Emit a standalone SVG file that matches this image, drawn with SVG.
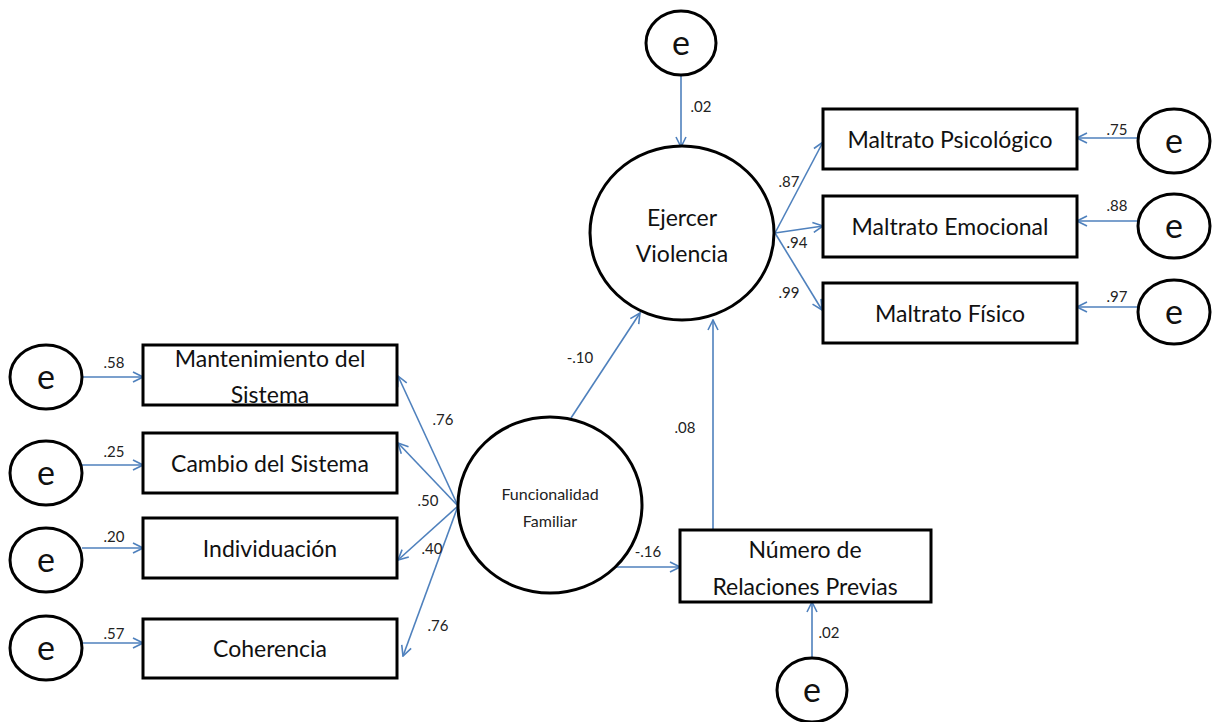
<svg xmlns="http://www.w3.org/2000/svg" width="1212" height="722" viewBox="0 0 1212 722">
<style>
.n{fill:#fff;stroke:#000;stroke-width:3}
.t{font-family:Lato,"Liberation Sans",sans-serif;font-size:23px;fill:#111;text-anchor:middle}
.e{font-family:Lato,"Liberation Sans",sans-serif;font-size:34px;fill:#111;text-anchor:middle}
.l{font-family:Lato,"Liberation Sans",sans-serif;font-size:15px;fill:#222;text-anchor:middle}
.s{font-family:Lato,"Liberation Sans",sans-serif;font-size:16px;fill:#222;text-anchor:middle}
.c{fill:none;stroke:#4f81bd;stroke-width:1.6;marker-end:url(#a)}
</style>
<defs>
<marker id="a" viewBox="0 0 12 12" refX="11" refY="6" markerWidth="12" markerHeight="12" markerUnits="userSpaceOnUse" orient="auto">
<path d="M1,1 L11,6 L1,11" fill="none" stroke="#4f81bd" stroke-width="1.6"/>
</marker>
</defs>
<rect width="1212" height="722" fill="#fff"/>
<g id="connectors">
<line class="c" x1="82" y1="377" x2="143" y2="377"/>
<line class="c" x1="82" y1="465" x2="143" y2="465"/>
<line class="c" x1="82" y1="548" x2="143" y2="548"/>
<line class="c" x1="82" y1="643" x2="143" y2="643"/>
<line class="c" x1="458" y1="506" x2="398" y2="376"/>
<line class="c" x1="458" y1="506" x2="398" y2="443"/>
<line class="c" x1="458" y1="506" x2="398" y2="560"/>
<line class="c" x1="458" y1="506" x2="403" y2="656"/>
<line class="c" x1="571" y1="418" x2="640" y2="313"/>
<line class="c" x1="615" y1="567" x2="680" y2="567"/>
<line class="c" x1="713" y1="530" x2="713" y2="320"/>
<line class="c" x1="812" y1="658" x2="812" y2="602"/>
<line class="c" x1="681" y1="75" x2="681" y2="147"/>
<line class="c" x1="775" y1="233" x2="823" y2="142"/>
<line class="c" x1="775" y1="233" x2="823" y2="226"/>
<line class="c" x1="775" y1="233" x2="822" y2="310"/>
<line class="c" x1="1138" y1="138" x2="1077" y2="138"/>
<line class="c" x1="1138" y1="221" x2="1077" y2="221"/>
<line class="c" x1="1138" y1="307" x2="1077" y2="307"/>
</g>
<g id="labels">
<text class="l" x="114" y="368">.58</text>
<text class="l" x="114" y="457">.25</text>
<text class="l" x="114" y="542">.20</text>
<text class="l" x="114" y="639">.57</text>
<text class="l" x="443" y="425">.76</text>
<text class="l" x="428" y="506">.50</text>
<text class="l" x="432" y="554">.40</text>
<text class="l" x="438" y="631">.76</text>
<text class="l" x="580" y="363">-.10</text>
<text class="l" x="685" y="433">.08</text>
<text class="l" x="648" y="557">-.16</text>
<text class="l" x="829" y="638">.02</text>
<text class="l" x="701" y="112">.02</text>
<text class="l" x="789" y="187">.87</text>
<text class="l" x="797" y="248">.94</text>
<text class="l" x="789" y="298">.99</text>
<text class="l" x="1117" y="135">.75</text>
<text class="l" x="1117" y="211">.88</text>
<text class="l" x="1117" y="302">.97</text>
</g>
<g id="e1"><ellipse class="n" cx="46" cy="377" rx="36" ry="32"/><text class="e" x="46" y="389">e</text></g>
<g id="e2"><ellipse class="n" cx="46" cy="473" rx="36" ry="32"/><text class="e" x="46" y="485">e</text></g>
<g id="e3"><ellipse class="n" cx="46" cy="560" rx="36" ry="32"/><text class="e" x="46" y="572">e</text></g>
<g id="e4"><ellipse class="n" cx="46" cy="648" rx="36" ry="32"/><text class="e" x="46" y="660">e</text></g>
<g id="mant"><rect class="n" x="143" y="345" width="254" height="60"/><text class="t" x="270" y="367">Mantenimiento del</text><text class="t" x="270" y="403">Sistema</text></g>
<g id="cambio"><rect class="n" x="143" y="433" width="254" height="60"/><text class="t" x="270" y="472">Cambio del Sistema</text></g>
<g id="indiv"><rect class="n" x="143" y="518" width="254" height="60"/><text class="t" x="270" y="557">Individuación</text></g>
<g id="coher"><rect class="n" x="143" y="619" width="254" height="59"/><text class="t" x="270" y="657">Coherencia</text></g>
<g id="ff"><ellipse class="n" cx="550" cy="505" rx="92" ry="88"/><text class="s" x="550" y="500">Funcionalidad</text><text class="s" x="550" y="527">Familiar</text></g>
<g id="ev"><ellipse class="n" cx="682" cy="233" rx="92" ry="87"/><text class="t" x="682" y="226">Ejercer</text><text class="t" x="682" y="262">Violencia</text></g>
<g id="etop"><ellipse class="n" cx="681" cy="43" rx="35" ry="32"/><text class="e" x="681" y="55">e</text></g>
<g id="nrp"><rect class="n" x="680" y="530" width="251" height="72"/><text class="t" x="805" y="558">Número de</text><text class="t" x="805" y="595">Relaciones Previas</text></g>
<g id="ebot"><ellipse class="n" cx="812" cy="690" rx="35" ry="32"/><text class="e" x="812" y="702">e</text></g>
<g id="mp"><rect class="n" x="823" y="109" width="254" height="60"/><text class="t" x="950" y="148">Maltrato Psicológico</text></g>
<g id="me"><rect class="n" x="823" y="196" width="254" height="61"/><text class="t" x="950" y="235">Maltrato Emocional</text></g>
<g id="mf"><rect class="n" x="823" y="283" width="254" height="60"/><text class="t" x="950" y="322">Maltrato Físico</text></g>
<g id="ep"><ellipse class="n" cx="1174" cy="141" rx="36" ry="32"/><text class="e" x="1174" y="153">e</text></g>
<g id="eem"><ellipse class="n" cx="1174" cy="226" rx="36" ry="32"/><text class="e" x="1174" y="238">e</text></g>
<g id="ef"><ellipse class="n" cx="1174" cy="312" rx="36" ry="32"/><text class="e" x="1174" y="324">e</text></g>
</svg>
